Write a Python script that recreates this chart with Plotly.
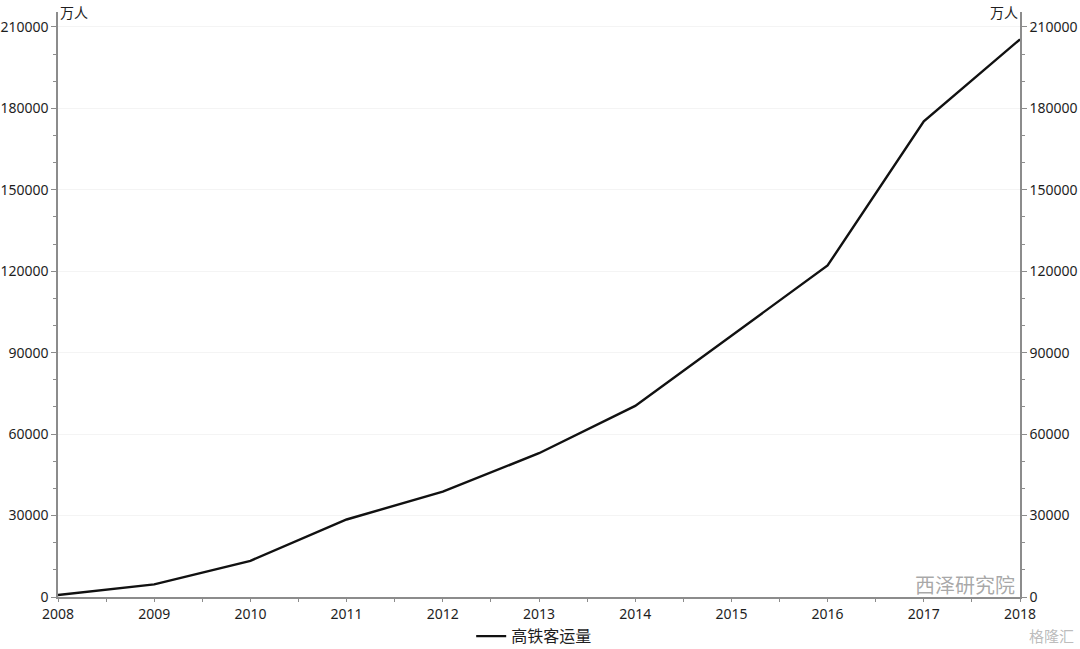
import plotly.graph_objects as go

years = [2008, 2009, 2010, 2011, 2012, 2013, 2014, 2015, 2016, 2017, 2018]
passengers = [734, 4651, 13323, 28552, 38815, 52962, 70378, 96139, 122128, 175216, 205430]
series_name = "高铁客运量"
unit_label = "万人"
y_ticks = [0, 30000, 60000, 90000, 120000, 150000, 180000, 210000]

FONT = "Noto Sans, Noto Sans CJK SC, sans-serif"
AXIS_COLOR = "#8c8c8c"
TXT = "#1e1e1e"

fig = go.Figure()
fig.add_trace(go.Scatter(x=years, y=passengers, mode="lines", name=series_name,
                         line=dict(color="#111111", width=2.4), yaxis="y"))
fig.add_trace(go.Scatter(x=years, y=passengers, mode="lines", showlegend=False,
                         line=dict(color="rgba(0,0,0,0)", width=0), hoverinfo="skip", yaxis="y2"))

yrange = [0, 215500]
common_y = dict(range=yrange, tickvals=y_ticks, ticktext=[str(v) for v in y_ticks],
                showline=True, linecolor=AXIS_COLOR, linewidth=1.5,
                ticks="outside", ticklen=5, tickcolor=AXIS_COLOR, tickwidth=1,
                minor=dict(dtick=10000, tick0=0, ticks="outside", ticklen=3, tickcolor=AXIS_COLOR, showgrid=False),
                tickfont=dict(family=FONT, size=14, color=TXT), zeroline=False, automargin=False)

fig.update_layout(
    width=1080, height=649,
    margin=dict(l=58, r=60, t=12, b=52, autoexpand=False),
    paper_bgcolor="white", plot_bgcolor="white",
    font=dict(family=FONT, size=14, color=TXT),
    xaxis=dict(range=[2008, 2018], tickvals=years, ticktext=[str(y) for y in years],
               showline=True, linecolor=AXIS_COLOR, linewidth=1.5,
               ticks="outside", ticklen=3, tickcolor=AXIS_COLOR,
               minor=dict(dtick=0.5, tick0=2008, ticks="outside", ticklen=3, tickcolor=AXIS_COLOR),
               showgrid=False, zeroline=False, automargin=False,
               tickfont=dict(family=FONT, size=14, color=TXT)),
    yaxis=dict(**common_y, showgrid=True, gridcolor="#f4f4f4", gridwidth=1),
    yaxis2=dict(**common_y, overlaying="y", side="right", showgrid=False),
    legend=dict(orientation="h", x=0.495, xanchor="center", y=-0.038, yanchor="top",
                font=dict(family="Noto Sans CJK SC, sans-serif", size=16, color=TXT)),
    showlegend=True,
)

fig.add_annotation(text=unit_label, xref="paper", yref="paper", x=0, y=1.0,
                   xanchor="left", yanchor="top", showarrow=False,
                   font=dict(family="Noto Sans CJK SC", size=14, color=TXT), xshift=0, yshift=12)
fig.add_annotation(text=unit_label, xref="paper", yref="paper", x=1, y=1.0,
                   xanchor="right", yanchor="top", showarrow=False,
                   font=dict(family="Noto Sans CJK SC", size=14, color=TXT), xshift=0, yshift=12)
# watermark
fig.add_annotation(text="西泽研究院", xref="paper", yref="paper", x=0.997, y=0.022,
                   xanchor="right", yanchor="middle", showarrow=False,
                   font=dict(family="Noto Sans CJK SC", size=20, color="rgba(110,110,110,0.6)"))
fig.add_annotation(text="格隆汇", xref="paper", yref="paper", x=1.058, y=-0.065,
                   xanchor="right", yanchor="middle", showarrow=False,
                   font=dict(family="Noto Sans CJK SC", size=15, color="rgba(150,150,150,0.65)"))

fig.write_html("out.html", config={"displayModeBar": False},
               post_script="document.body.style.margin='0';document.body.style.overflow='hidden';")
